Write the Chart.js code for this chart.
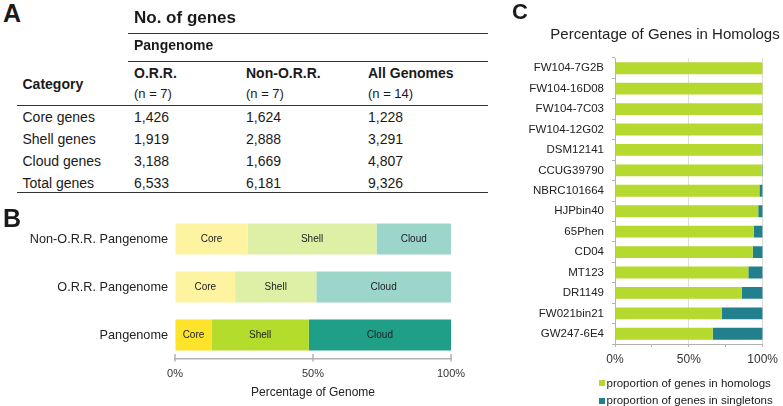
<!DOCTYPE html>
<html><head><meta charset="utf-8">
<script src="https://cdn.jsdelivr.net/npm/chart.js@4"></script>
<style>
html,body{margin:0;padding:0;background:#fff;}
#root{position:relative;width:783px;height:406px;overflow:hidden;font-family:"Liberation Sans",Arial,sans-serif;color:#1a1a1a;}
.t{position:absolute;white-space:nowrap;}
.ln{position:absolute;height:0;border-top:1.5px solid #333;}
canvas{position:absolute;}
</style></head><body><div id="root">
<canvas id="cB" width="480" height="206" style="left:0;top:200px;"></canvas>
<canvas id="cC" width="263" height="406" style="left:520px;top:0;"></canvas>
</div>
<script>
// ---------- Panel A: table ----------
const tableColumns = ['O.R.R.', 'Non-O.R.R.', 'All Genomes'];
const tableColumnN = ['(n = 7)', '(n = 7)', '(n = 14)'];
const tableRows = ['Core genes', 'Shell genes', 'Cloud genes', 'Total genes'];
const countsORR = ['1,426', '1,919', '3,188', '6,533'];
const countsNonORR = ['1,624', '2,888', '1,669', '6,181'];
const countsAll = ['1,228', '3,291', '4,807', '9,326'];

// ---------- Panel B ----------
const pangenomeLabels = ['Non-O.R.R. Pangenome', 'O.R.R. Pangenome', 'Pangenome'];
const segmentNames = ['Core', 'Shell', 'Cloud'];
const corePct = [26.3, 21.8, 13.2];
const shellPct = [46.7, 29.4, 35.3];
const cloudPct = [27.0, 48.8, 51.5];

// ---------- Panel C ----------
const genomeLabels = ['FW104-7G2B', 'FW104-16D08', 'FW104-7C03', 'FW104-12G02', 'DSM12141', 'CCUG39790',
  'NBRC101664', 'HJPbin40', '65Phen', 'CD04', 'MT123', 'DR1149', 'FW021bin21', 'GW247-6E4'];
const homologPct = [100, 100, 100, 99.9, 99.4, 99.4, 97.8, 97.0, 94.0, 93.3, 90.3, 85.8, 72.3, 66.2];
const singletonPct = [0, 0, 0, 0.1, 0.6, 0.6, 2.2, 3.0, 6.0, 6.7, 9.7, 14.2, 27.7, 33.8];
const seriesNamesC = ['proportion of genes in homologs', 'proportion of genes in singletons'];
const titleC = 'Percentage of Genes in Homologs';

const FONT = '"Liberation Sans", Arial, sans-serif';
const root = document.getElementById('root');
function txt(s, x, cy, size, bold, extra) {
  const d = document.createElement('div');
  d.className = 't';
  d.textContent = s;
  const lh = Math.round(size * 1.15);
  d.style.left = x + 'px';
  d.style.top = (cy - lh / 2) + 'px';
  d.style.fontSize = size + 'px';
  d.style.lineHeight = lh + 'px';
  if (bold) d.style.fontWeight = 'bold';
  if (extra) Object.assign(d.style, extra);
  root.appendChild(d);
  return d;
}
function hline(x1, x2, y) {
  const d = document.createElement('div');
  d.className = 'ln';
  d.style.left = x1 + 'px'; d.style.width = (x2 - x1) + 'px'; d.style.top = (y - 0.75) + 'px';
  root.appendChild(d);
}
// panel letters
txt('A', 3, 13.5, 25, true);
txt('B', 3, 218.5, 25, true);
txt('C', 512, 11.5, 22, true);

// table
const colX = [134, 246, 368];
txt('No. of genes', 134, 17.5, 17, true);
hline(128, 488, 33.7);
txt('Pangenome', 134, 45, 14, true);
hline(128, 488, 61.3);
txt('Category', 22.5, 84, 14, true);
tableColumns.forEach((c, i) => txt(c, colX[i], 72.7, 14, true));
tableColumnN.forEach((c, i) => txt(c, colX[i], 93.5, 13, false));
hline(16.7, 488, 106);
const rowY = [116.7, 138.5, 160.7, 182.7];
const cols = [countsORR, countsNonORR, countsAll];
tableRows.forEach((r, j) => {
  txt(r, 22.5, rowY[j], 14, false);
  cols.forEach((col, i) => txt(col[j], colX[i], rowY[j], 14, false));
});
hline(16.7, 488, 192.7);

// ---------- Chart.js ----------
Chart.defaults.font.family = FONT;
Chart.defaults.color = '#222';

const segLabelPlugin = {
  id: 'segLabels',
  afterDatasetsDraw(chart) {
    const ctx = chart.ctx;
    ctx.save();
    ctx.font = '10px ' + FONT;
    ctx.fillStyle = '#222';
    ctx.textAlign = 'center';
    ctx.textBaseline = 'middle';
    chart.data.datasets.forEach((ds, i) => {
      chart.getDatasetMeta(i).data.forEach(el => {
        ctx.fillText(ds.label, (el.x + el.base) / 2, el.y);
      });
    });
    ctx.restore();
  }
};
const axisMarkPlugin = {
  id: 'axisMarks',
  afterDraw(chart) {
    const s = chart.scales.x, ctx = chart.ctx;
    const y = chart.chartArea.bottom;
    ctx.save();
    ctx.strokeStyle = '#b3b3b3';
    ctx.lineWidth = 1.5;
    s.ticks.forEach(t => {
      const x = s.getPixelForValue(t.value);
      ctx.beginPath(); ctx.moveTo(x, y - 5); ctx.lineTo(x, y + 2.5); ctx.stroke();
    });
    ctx.restore();
  }
};

const segValues = [corePct, shellPct, cloudPct];
const segColors = [
  ['#fdf3a1', '#fdf3a1', '#fde42b'],
  ['#ddf0a5', '#ddf0a5', '#b3dc2d'],
  ['#9cd5c9', '#9cd5c9', '#1f9e88']
];
new Chart(document.getElementById('cB'), {
  type: 'bar',
  data: {
    labels: pangenomeLabels,
    datasets: segmentNames.map((n, i) => ({ label: n, data: segValues[i], backgroundColor: segColors[i], borderWidth: 0 }))
  },
  options: {
    indexAxis: 'y', responsive: false, animation: false, devicePixelRatio: 1,
    layout: { padding: { left: 0, right: 29, top: 15, bottom: 0 } },
    plugins: { legend: { display: false }, tooltip: { enabled: false } },
    datasets: { bar: { categoryPercentage: 1, barPercentage: 0.646 } },
    scales: {
      x: {
        stacked: true, min: 0, max: 100,
        ticks: { stepSize: 50, callback: v => v + '%', font: { size: 11 }, color: '#333', padding: 8, maxRotation: 0 },
        grid: { drawOnChartArea: false, drawTicks: false },
        border: { color: '#b3b3b3', width: 1.5 },
        title: { display: true, text: 'Percentage of Genome', font: { size: 12 }, color: '#222', padding: { top: 0, bottom: 6 } },
        afterFit: s => { s.height = 47; }
      },
      y: {
        stacked: true,
        grid: { display: false, drawTicks: false },
        border: { display: false },
        ticks: { font: { size: 12.7 }, color: '#222', padding: 7 },
        afterFit: s => { s.width = 175; }
      }
    }
  },
  plugins: [segLabelPlugin, axisMarkPlugin]
});

const colorsC = ['#b5d92f', '#22808e'];
const valuesC = [homologPct, singletonPct];
const chartC = new Chart(document.getElementById('cC'), {
  type: 'bar',
  data: {
    labels: genomeLabels,
    datasets: seriesNamesC.map((n, i) => ({ label: n, data: valuesC[i], backgroundColor: colorsC[i], borderWidth: 0 }))
  },
  options: {
    indexAxis: 'y', responsive: false, animation: false, devicePixelRatio: 1,
    layout: { padding: { left: 0, right: 13, top: 58, bottom: 0 } },
    plugins: { legend: { display: false }, tooltip: { enabled: false }, title: { display: false } },
    datasets: { bar: { categoryPercentage: 1, barPercentage: 0.58 } },
    scales: {
      x: {
        stacked: true, min: 0, max: 100,
        ticks: { stepSize: 25, autoSkip: false, callback: v => (v % 50 === 0 ? v + '%' : ''), font: { size: 12 }, color: '#333', padding: 5, maxRotation: 0 },
        grid: { color: c => (c.tick && c.tick.value % 50 === 0 ? '#dcdcdc' : 'rgba(0,0,0,0)'), tickColor: '#b3b3b3', tickLength: 3 },
        border: { color: '#b3b3b3' },
        afterFit: s => { s.height = 62; }
      },
      y: {
        stacked: true,
        grid: { drawOnChartArea: false, tickLength: 3, color: '#b3b3b3' },
        border: { color: '#b3b3b3' },
        ticks: { font: { size: 11.5 }, color: '#222', padding: 8, autoSkip: false },
        afterFit: s => { s.width = 95; }
      }
    }
  }
});

// title for panel C
txt(titleC, 665, 33, 15, false, { transform: 'translateX(-50%)', color: '#222' });

// legend for panel C (HTML, from the chart's datasets)
const legendY = [383, 400.7];
chartC.data.datasets.forEach((ds, i) => {
  const sq = document.createElement('div');
  sq.style.cssText = 'position:absolute;left:599px;width:6px;height:6px;top:' + (legendY[i] - 3) + 'px;background:' + ds.backgroundColor;
  root.appendChild(sq);
  txt(ds.label, 606.5, legendY[i], 11.5, false);
});
</script>
</body></html>
